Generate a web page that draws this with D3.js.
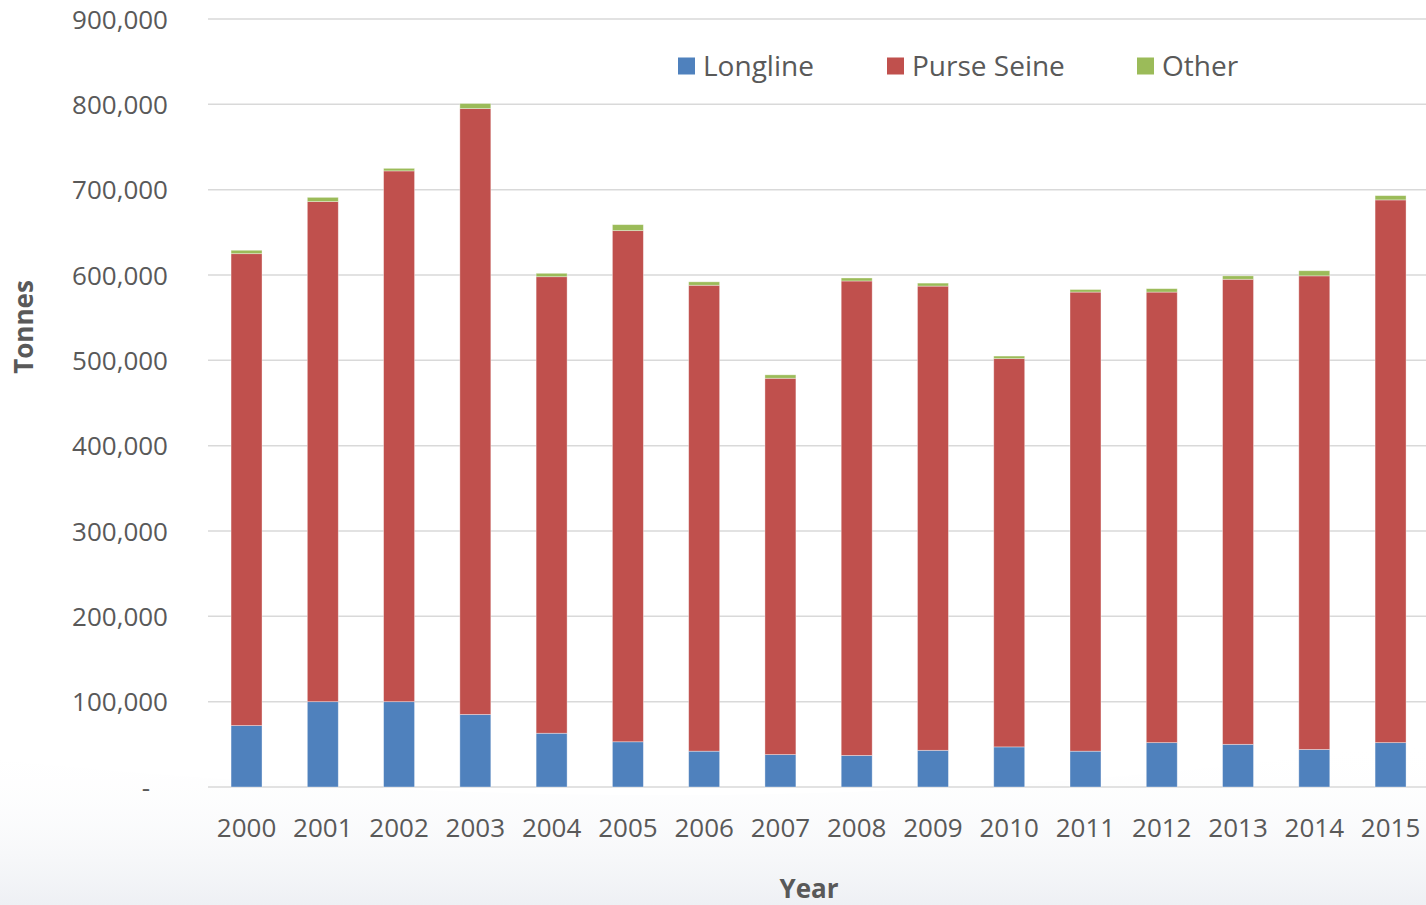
<!DOCTYPE html>
<html>
<head>
<meta charset="utf-8">
<script src="https://cdn.jsdelivr.net/npm/d3@7"></script>
<style>
  html, body { margin: 0; padding: 0; background: #fff; }
  svg { display: block; font-family: "Open Sans", "Noto Sans", sans-serif; }
</style>
</head>
<body>
<svg id="chart" width="1426" height="905"></svg>
<script>
// catch by gear, tonnes
const years = ["2000", "2001", "2002", "2003", "2004", "2005", "2006", "2007",
  "2008", "2009", "2010", "2011", "2012", "2013", "2014", "2015"];
const longline = [72000, 100000, 100000, 85000, 63000, 53000, 42000, 38000,
  37000, 43000, 47000, 42000, 52000, 50000, 44000, 52000];
const purseSeine = [553000, 586000, 622000, 710000, 535000, 599000, 546000, 441000,
  556000, 544000, 455000, 538000, 528000, 545000, 555000, 636000];
const other = [4000, 5000, 3000, 6000, 4000, 7000, 4000, 4000,
  3500, 3500, 3000, 3000, 4000, 4000, 6000, 5000];
const seriesNames = ["Longline", "Purse Seine", "Other"];
const yTicks = [0, 100000, 200000, 300000, 400000, 500000, 600000, 700000, 800000, 900000];

const colors = ["#4f81bd", "#c0504d", "#9bbb59"];
const textColor = "#595959";

const svg = d3.select("#chart");
const width = 1426, height = 905;

// faint background swoosh
const defs = svg.append("defs");
const grad = defs.append("linearGradient").attr("id", "bg").attr("x1", 0).attr("y1", 0).attr("x2", 0).attr("y2", 1);
grad.append("stop").attr("offset", "0%").attr("stop-color", "#ffffff").attr("stop-opacity", 0);
grad.append("stop").attr("offset", "100%").attr("stop-color", "#eef0f4").attr("stop-opacity", 1);
svg.append("path")
  .attr("d", "M0,760 C400,800 900,820 1426,740 L1426,905 L0,905 Z")
  .attr("fill", "url(#bg)");

const x = d3.scaleBand()
  .domain(years)
  .range([208.4, 1428.7])
  .paddingInner(0.594)
  .paddingOuter(0.297);

const y = d3.scaleLinear()
  .domain([0, 900000])
  .range([787, 19]);

// gridlines
svg.append("g")
  .selectAll("line")
  .data(yTicks)
  .join("line")
  .attr("x1", 208)
  .attr("x2", width)
  .attr("y1", (d) => y(d))
  .attr("y2", (d) => y(d))
  .attr("stroke", "#d9d9d9")
  .attr("stroke-width", 1.5);

// y axis labels
const fmt = d3.format(",");
const yAxis = (g) =>
  g
    .call(d3.axisLeft(y).tickValues(yTicks).tickSize(0).tickPadding(0)
      .tickFormat((d) => (d === 0 ? "-" : fmt(d))))
    .call((g) => g.select(".domain").remove())
    .call((g) => g.selectAll(".tick text")
      .attr("fill", textColor)
      .attr("font-size", 26)
      .attr("font-family", "Open Sans")
      .attr("dy", "0.35em")
      .attr("x", (d) => (d === 0 ? -18 : 0)));
svg.append("g").attr("transform", "translate(168,0)").call(yAxis);

// x axis labels
const xAxis = (g) =>
  g
    .call(d3.axisBottom(x).tickSize(0).tickPadding(0))
    .call((g) => g.select(".domain").remove())
    .call((g) => g.selectAll(".tick text")
      .attr("fill", textColor)
      .attr("font-size", 26)
      .attr("font-family", "Open Sans")
      .attr("dy", "0.35em")
      .attr("y", 41));
svg.append("g").attr("transform", "translate(0,787)").call(xAxis);

// stacked bars
const rows = years.map((yr, i) => ({
  year: yr,
  Longline: longline[i],
  "Purse Seine": purseSeine[i],
  Other: other[i],
}));
const stacked = d3.stack().keys(seriesNames)(rows);

svg.append("g")
  .selectAll("g")
  .data(stacked)
  .join("g")
  .attr("fill", (d, i) => colors[i])
  .selectAll("rect")
  .data((d) => d)
  .join("rect")
  .attr("x", (d) => x(d.data.year))
  .attr("width", x.bandwidth())
  .attr("y", (d) => y(d[1]))
  .attr("height", (d) => y(d[0]) - y(d[1]))
  .attr("stroke", "#ffffff")
  .attr("stroke-opacity", 0.45)
  .attr("stroke-width", 0.8);

// axis titles
svg.append("text")
  .attr("x", 809)
  .attr("y", 889)
  .attr("dy", "0.35em")
  .attr("text-anchor", "middle")
  .attr("font-size", 26)
  .attr("font-weight", "bold")
  .attr("fill", textColor)
  .text("Year");

svg.append("text")
  .attr("transform", "translate(24,327) rotate(-90)")
  .attr("dy", "0.35em")
  .attr("text-anchor", "middle")
  .attr("font-size", 26)
  .attr("font-weight", "bold")
  .attr("fill", textColor)
  .text("Tonnes");

// legend
const legendX = [678, 887, 1137];
const legend = svg.append("g")
  .selectAll("g")
  .data(seriesNames)
  .join("g")
  .attr("transform", (d, i) => `translate(${legendX[i]},66)`);
legend.append("rect")
  .attr("x", 0)
  .attr("y", -8.5)
  .attr("width", 17)
  .attr("height", 17)
  .attr("fill", (d, i) => colors[i]);
legend.append("text")
  .attr("x", 25)
  .attr("dy", "0.35em")
  .attr("font-size", 28)
  .attr("fill", textColor)
  .text((d) => d);
</script>
</body>
</html>
